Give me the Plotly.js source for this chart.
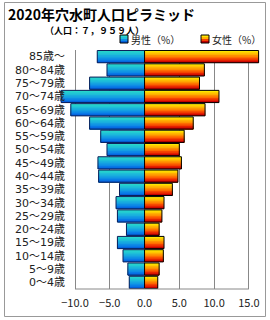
<!DOCTYPE html>
<html><head><meta charset="utf-8">
<script src="https://cdn.plot.ly/plotly-3.0.1.min.js"></script>
<style>html,body{margin:0;padding:0;background:#fff}#chart{width:270px;height:320px}</style>
</head><body><div id="chart"></div>
<script>
const ageGroups = ["85歳～","80～84歳","75～79歳","70～74歳","65～69歳","60～64歳","55～59歳","50～54歳","45～49歳","40～44歳","35～39歳","30～34歳","25～29歳","20～24歳","15～19歳","10～14歳","5～9歳","0～4歳"];
const malePct = [-6.8,-5.4,-7.9,-12.0,-10.6,-7.9,-6.3,-5.4,-6.7,-6.6,-3.6,-4.1,-3.9,-2.6,-3.9,-3.1,-2.4,-2.2];
const femalePct = [16.4,8.6,7.9,10.7,8.7,7.0,5.7,5.0,5.3,4.8,4.0,2.8,2.5,2.1,2.8,2.7,2.1,1.9];
const xTicks = [-10,-5,0,5,10,15];
const titleText = "2020年穴水町人口ピラミッド";
const subtitleText = "（人口：７，９５９人）";
const maleName = "男性（%）";
const femaleName = "女性（%）";

const maleGrad = ["rgb(40,214,204)","rgb(35,204,210)","rgb(30,190,216)","rgb(25,174,222)","rgb(20,158,226)","rgb(14,140,230)","rgb(8,120,230)","rgb(4,96,220)"];
const femaleGrad = ["rgb(255,232,0)","rgb(255,206,0)","rgb(255,176,0)","rgb(255,144,0)","rgb(255,108,0)","rgb(245,68,0)","rgb(228,32,0)","rgb(196,0,0)"];

const T = 0.92, N = maleGrad.length;
const traces = [];
function addBar(vals, grad, edge){
  for(let i=0;i<N;i++){
    traces.push({type:'bar',orientation:'h',y:ageGroups,x:vals,
      width:T - i*T/N, offset:-T/2 + i*T/N,
      marker:{color:grad[i],line:{width:0}},showlegend:false,hoverinfo:'skip'});
  }
  traces.push({type:'bar',orientation:'h',y:ageGroups,x:vals,width:T,offset:-T/2,
    marker:{color:'rgba(0,0,0,0)',line:{width:1,color:edge}},showlegend:false,hoverinfo:'skip'});
}
addBar(malePct, maleGrad, 'rgb(10,30,90)');
addBar(femalePct, femaleGrad, '#000');

// pixel helpers (plot area: x 59..260, y 50..289)
const L=59,R=260,Tp=50,B=289;
const px = v => (v-L)/(R-L);
const py = v => (B-v)/(B-Tp);

const shapes = [
  {type:'line',xref:'x',yref:'paper',x0:-10,x1:15,y0:0,y1:0,line:{color:'#888',width:1}},
  {type:'rect',xref:'paper',yref:'paper',x0:px(4.5),x1:px(265.5),y0:py(316.5),y1:py(2.5),line:{color:'#999',width:1},fillcolor:'rgba(0,0,0,0)'}
];
function legendSquare(x0, grad){
  const y0=35, h=8, n=4;
  for(let i=0;i<n;i++){
    const c = grad[Math.round(i*(grad.length-1)/(n-1))];
    shapes.push({type:'rect',xref:'paper',yref:'paper',x0:px(x0),x1:px(x0+8),y0:py(y0+h),y1:py(y0+i*h/n),line:{width:0},fillcolor:c});
  }
  shapes.push({type:'rect',xref:'paper',yref:'paper',x0:px(x0),x1:px(x0+8),y0:py(y0+h),y1:py(y0),line:{width:1,color:'#000'},fillcolor:'rgba(0,0,0,0)'});
}
legendSquare(120, maleGrad);
legendSquare(201, femaleGrad);

const fam = '"Noto Sans CJK JP", "Noto Sans", sans-serif';
const layout = {
  width:270,height:320,
  margin:{l:L,r:270-R,t:Tp,b:320-B,pad:0},
  paper_bgcolor:'#fff',plot_bgcolor:'#fff',
  barmode:'overlay',
  font:{family:fam,color:'#222'},
  title:{text:'<b>'+titleText+'</b>',font:{family:fam,size:14,color:'#000'},xref:'container',x:8/270,xanchor:'left',yref:'container',y:1-15/320,yanchor:'middle'},
  xaxis:{range:[-12.3,16.6],tickvals:xTicks,ticktext:xTicks.map(v=>v.toFixed(1).replace('-','−')),
    showgrid:true,gridcolor:'#888',gridwidth:1,zeroline:false,showline:false,ticks:'',
    tickfont:{size:11,color:'#222'},ticklabelstandoff:6,fixedrange:true},
  yaxis:{type:'category',autorange:'reversed',showgrid:false,zeroline:false,showline:false,ticks:'',
    tickfont:{family:'"DejaVu Sans", "Noto Sans CJK JP", sans-serif',size:11,color:'#222'},ticklabelstandoff:-7,fixedrange:true},
  shapes:shapes,
  annotations:[
    {xref:'paper',yref:'paper',x:px(94.5),y:py(30),text:'<b>'+subtitleText+'</b>',showarrow:false,font:{family:fam,size:9,color:'#000'},xanchor:'center',yanchor:'middle'},
    {xref:'paper',yref:'paper',x:px(129),y:py(39.5),text:maleName,showarrow:false,font:{family:fam,size:10,color:'#222'},xanchor:'left',yanchor:'middle'},
    {xref:'paper',yref:'paper',x:px(210),y:py(39.5),text:femaleName,showarrow:false,font:{family:fam,size:10,color:'#222'},xanchor:'left',yanchor:'middle'}
  ]
};
Plotly.newPlot('chart',traces,layout,{displayModeBar:false,staticPlot:true});
</script></body></html>
